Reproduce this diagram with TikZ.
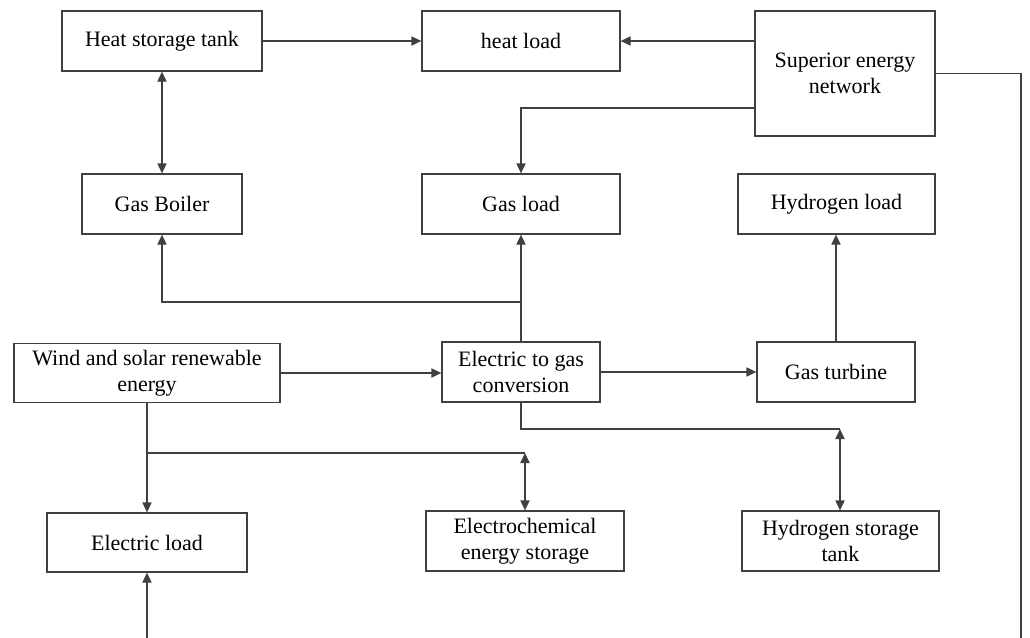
\documentclass[tikz,border=0pt]{standalone}
\usepackage{fontspec}
\setmainfont{Liberation Serif}
\usetikzlibrary{arrows.meta}
\definecolor{linegray}{HTML}{404040}
\begin{document}
\begin{tikzpicture}[x=0.5pt, y=-0.5pt, line width=0.65pt,
  box/.style={draw=linegray, rectangle, inner sep=0pt, align=center,
    font=\fontsize{11}{13}\selectfont},
  arr/.style={draw=linegray, -{Triangle[length=5pt,width=4.6pt]}},
  darr/.style={draw=linegray, {Triangle[length=5pt,width=4.6pt]}-{Triangle[length=5pt,width=4.6pt]}},
  wire/.style={draw=linegray}]
  \useasboundingbox (0,0) rectangle (1030,638);
  % boxes
  \node[box, minimum width=100pt, minimum height=30pt] (hst) at (162,41) {Heat storage tank};
  \node[box, minimum width=99pt, minimum height=30pt] (heat) at (521,41) {heat load};
  \node[box, minimum width=90pt, minimum height=62.5pt] (sen) at (845,73.5) {Superior energy\\network};
  \node[box, minimum width=80pt, minimum height=30pt] (boiler) at (162,204) {Gas Boiler};
  \node[box, minimum width=99pt, minimum height=30pt] (gasload) at (521,204) {Gas load};
  \node[box, minimum width=98.5pt, minimum height=30pt] (h2load) at (836.5,204) {Hydrogen load};
  \node[box, minimum width=133pt, minimum height=29.5pt] (ws) at (147,373) {Wind and solar renewable\\energy};
  \node[box, minimum width=79pt, minimum height=30pt] (etg) at (521,372) {Electric to gas\\conversion};
  \node[box, minimum width=79pt, minimum height=30pt] (gt) at (836,372) {Gas turbine};
  \node[box, minimum width=100pt, minimum height=29.5pt] (eload) at (147,542.5) {Electric load};
  \node[box, minimum width=99pt, minimum height=30pt] (ecs) at (525,541) {Electrochemical\\energy storage};
  \node[box, minimum width=98.5pt, minimum height=30pt] (h2tank) at (840.5,541) {Hydrogen storage\\tank};
  % junctions and free ends
  \coordinate (tap) at (521,108);
  \coordinate (gb) at (521,302);
  \coordinate (eb) at (525,453);
  \coordinate (hb) at (840,429);
  \coordinate (rend) at (1021,638);
  \coordinate (bend) at (147,638);
  % connectors
  \draw[arr] (hst.east) -- (heat.west);
  \draw[arr] (heat.east -| sen.west) -- (heat.east);
  \draw[darr] (hst.south) -- (boiler.north);
  \draw[arr] (tap -| sen.west) -- (tap) -- (gasload.north);
  \draw[wire] (sen.east) -| (rend);
  \draw[arr] (etg.north) -- (gasload.south);
  \draw[arr] (gb) -| (boiler.south);
  \draw[arr] (ws.east) -- (ws.east -| etg.west);
  \draw[arr] (etg.east) -- (gt.west);
  \draw[arr] (gt.north) -- (gt.north |- h2load.south);
  \draw[arr] (ws.south) -- (eload.north);
  \draw[wire] (eb -| ws.south) -- (eb);
  \draw[darr] (eb) -- (eb |- ecs.north);
  \draw[wire] (etg.south) |- (hb);
  \draw[darr] (hb) -- (hb |- h2tank.north);
  \draw[arr] (bend) -- (eload.south);
\end{tikzpicture}
\end{document}
